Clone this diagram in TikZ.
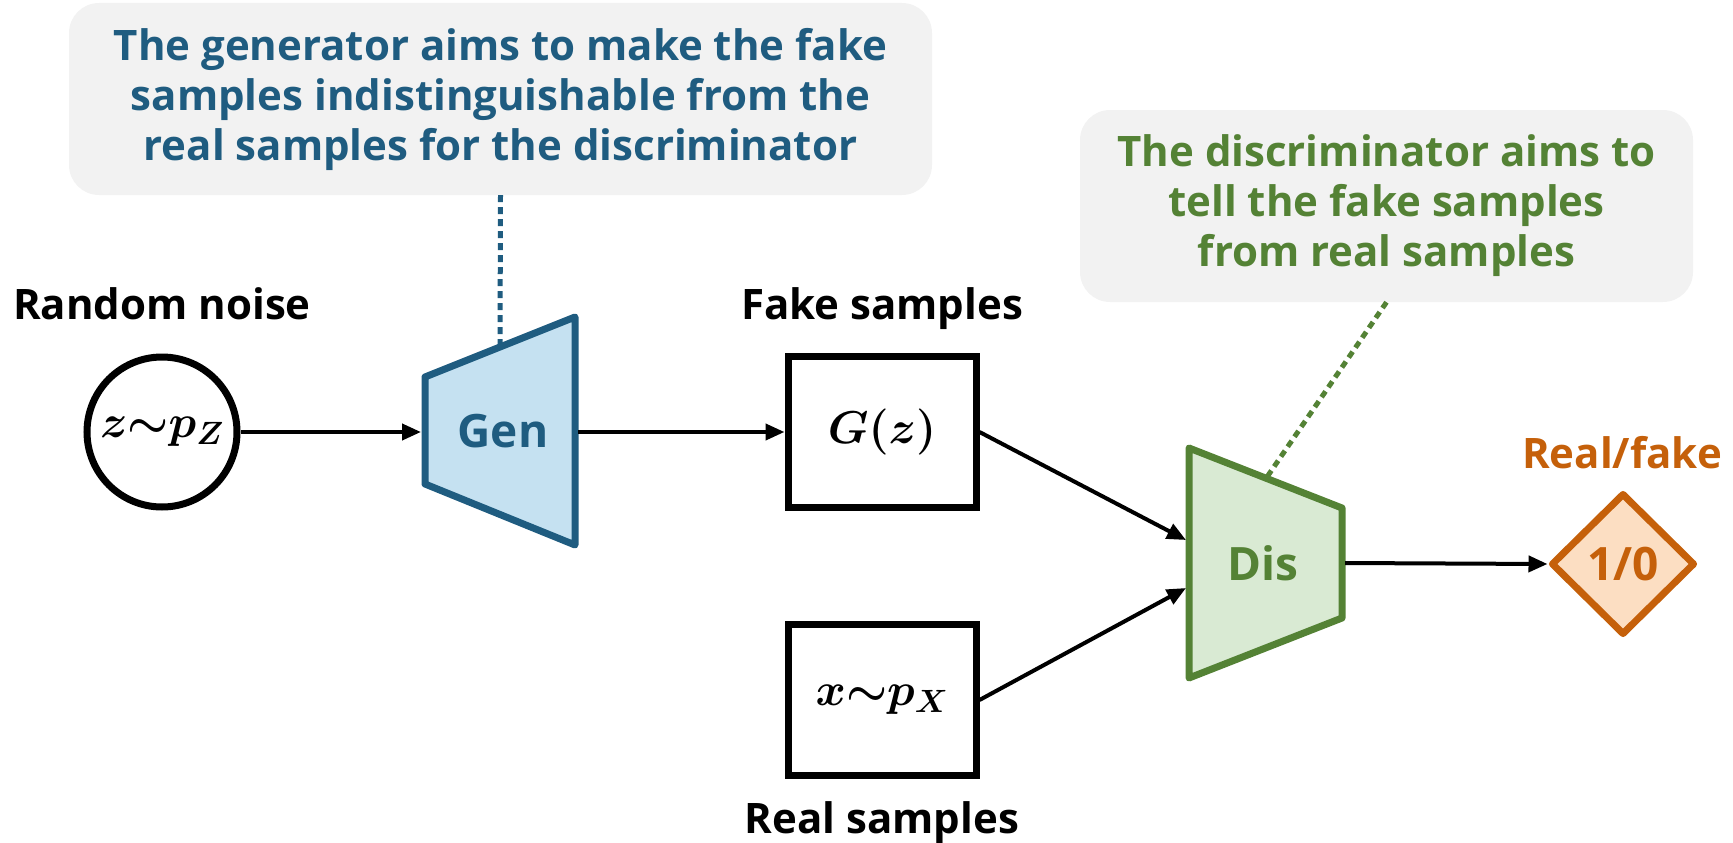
\RequirePackage{fix-cm}
\documentclass[tikz,border=0pt]{standalone}
\usepackage{fontspec}
\setmainfont{Open Sans}
\usepackage{bm}
\usetikzlibrary{arrows.meta,shapes.geometric}
\definecolor{gblue}{RGB}{31,92,128}
\definecolor{gbluefill}{RGB}{197,225,241}
\definecolor{dgreen}{RGB}{84,130,53}
\definecolor{dgreenfill}{RGB}{217,234,211}
\definecolor{rforange}{RGB}{197,96,10}
\definecolor{rffill}{RGB}{252,222,194}
\definecolor{notegray}{RGB}{242,242,242}
\begin{document}
\begin{tikzpicture}[x=1pt,y=-1pt,
  lbl/.style={font=\fontsize{42}{50}\selectfont\bfseries, anchor=base, inner sep=0pt},
  note/.style={fill=notegray, rounded corners=30pt, align=center, inner sep=0pt,
    font=\fontsize{42}{50}\selectfont\bfseries},
  arr/.style={line width=4pt, -{Triangle[length=19pt,width=16pt]}},
  box/.style={draw, line width=7pt, minimum width=188pt, minimum height=151pt, inner sep=0pt},
  bigtxt/.style={font=\fontsize{46}{50}\selectfont\bfseries, inner sep=0pt},
  mathtxt/.style={font=\fontsize{46}{50}\selectfont, inner sep=0pt},
  dots/.style={line width=5pt, dash pattern=on 7pt off 5pt}]
\useasboundingbox (0,0) rectangle (1733,843);

% callouts
\node[note, minimum width=863pt, minimum height=192pt, text=gblue] (gnote) at (500.5,99)
  {The generator aims to make the fake\\samples indistinguishable from the\\real samples for the discriminator};
\node[note, minimum width=613pt, minimum height=192pt, text=dgreen] (dnote) at (1386.5,206)
  {The discriminator aims to\\tell the fake samples\\from real samples};

% labels
\node[lbl] (lnoise) at (162,319) {Random noise};
\node[lbl] (lfake) at (882,319) {Fake samples};
\node[lbl] (lreal) at (882,833) {Real samples};
\node[lbl, text=rforange] (lrf) at (1622,468) {Real/fake};

% noise
\node[circle, draw, line width=7pt, minimum size=150pt, inner sep=0pt, mathtxt] (noise) at (162,432)
  {$\bm{z}\mathord{\bm{\sim}}\bm{p}_{\bm{Z}}$};

% generator
\draw[gblue, fill=gbluefill, line width=7pt, line join=round]
  (425,377) -- (575,317) -- (575,545) -- (425,484) -- cycle;
\node[bigtxt, text=gblue] (gen) at (503,431) {Gen};
\coordinate (genL) at (421,432);
\coordinate (genR) at (578,432);
\coordinate (genT) at (500,347);

% sample boxes
\node[box, mathtxt] (gz) at (882,432) {$\bm{G(z)}$};
\node[box, mathtxt] (xs) at (882,700) {$\bm{x}\mathord{\bm{\sim}}\bm{p}_{\bm{X}}$};

% discriminator
\draw[dgreen, fill=dgreenfill, line width=7pt, line join=round]
  (1189,448) -- (1342,508) -- (1342,618) -- (1189,678) -- cycle;
\node[bigtxt, text=dgreen] (dis) at (1263,563) {Dis};
\coordinate (disL1) at (1186,540);
\coordinate (disL2) at (1186,588);
\coordinate (disR) at (1345,563);
\coordinate (disT) at (1267,477);

% output diamond
\node[diamond, draw=rforange, fill=rffill, line width=7pt, line join=round,
  minimum width=144pt, minimum height=142pt, inner sep=0pt] (rf) at (1623,564) {};
\node[bigtxt, text=rforange, anchor=base] (rftxt) at (1623,580) {1/0};

% connectors
\draw[arr] (noise) -- (genL);
\draw[arr] (genR) -- (gz.west);
\draw[arr] (gz.east) -- (disL1);
\draw[arr] (xs.east) -- (disL2);
\draw[arr] (disR) -- (rf.west);
\draw[dots, gblue] (gnote.south) -- (genT);
\draw[dots, dgreen] (dnote.south) -- (disT);
\end{tikzpicture}
\end{document}
